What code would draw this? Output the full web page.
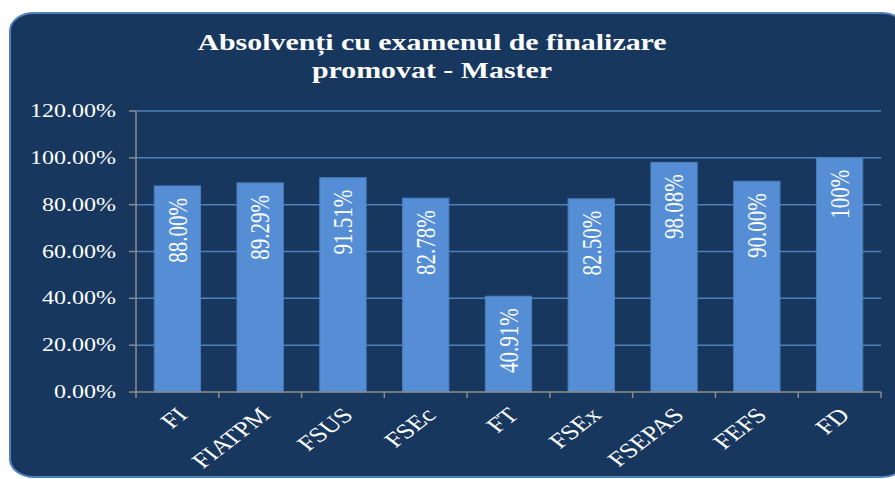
<!DOCTYPE html>
<html>
<head>
<meta charset="utf-8">
<script src="https://cdn.jsdelivr.net/npm/d3@7"></script>
<style>
  html, body { margin: 0; padding: 0; background: #ffffff; }
  text { font-family: "Liberation Serif", "Times New Roman", serif; }
</style>
</head>
<body>
<div id="chart"></div>
<script>
  // 1. Data
  const categories = ["FI", "FIATPM", "FSUS", "FSEc", "FT", "FSEx", "FSEPAS", "FEFS", "FD"];
  const values = [88.0, 89.29, 91.51, 82.78, 40.91, 82.5, 98.08, 90.0, 100];
  const valueLabels = ["88.00%", "89.29%", "91.51%", "82.78%", "40.91%", "82.50%", "98.08%", "90.00%", "100%"];
  const yTicks = [0, 20, 40, 60, 80, 100, 120];
  const titleLines = ["Absolvenți cu examenul de finalizare", "promovat - Master"];

  // the original picture is stretched sideways
  const sx = 1.3;

  // 2. Dimensions
  const dims = {
    width: 895,
    height: 479,
    margin: { top: 111, right: 14, bottom: 87, left: 136 },
  };
  dims.containerWidth = dims.width - dims.margin.left - dims.margin.right;
  dims.containerHeight = dims.height - dims.margin.top - dims.margin.bottom;

  // 3. Container
  const svg = d3
    .select("#chart")
    .append("svg")
    .attr("width", dims.width)
    .attr("height", dims.height);

  svg
    .append("rect")
    .attr("x", 10)
    .attr("y", 13)
    .attr("width", 896)
    .attr("height", 464)
    .attr("rx", 24)
    .attr("ry", 18)
    .attr("fill", "#17375e")
    .attr("stroke", "#4f81bd")
    .attr("stroke-width", 2);

  const title = svg.append("g").attr("fill", "#ffffff");
  titleLines.forEach((t, i) => {
    title
      .append("text")
      .attr("transform", `translate(432, ${50 + i * 28}) scale(${sx},1)`)
      .attr("text-anchor", "middle")
      .style("font-size", "23px")
      .style("font-weight", "bold")
      .text(t);
  });

  const container = svg
    .append("g")
    .attr("transform", `translate(${dims.margin.left}, ${dims.margin.top})`);

  // 4. Scales
  const xScale = d3
    .scaleBand()
    .domain(categories)
    .range([0, dims.containerWidth])
    .paddingInner(0.44)
    .paddingOuter(0.22);

  const yScale = d3
    .scaleLinear()
    .domain([0, 120])
    .range([dims.containerHeight, 0]);

  // 5. Grid
  container
    .append("g")
    .selectAll("line")
    .data(yTicks.slice(1))
    .join("line")
    .attr("x1", 0)
    .attr("x2", dims.containerWidth)
    .attr("y1", (d) => yScale(d))
    .attr("y2", (d) => yScale(d))
    .attr("stroke", "#4f81bd")
    .attr("stroke-width", 1.5);

  // 6. Bars
  container
    .append("g")
    .selectAll("rect")
    .data(values)
    .join("rect")
    .attr("x", (d, i) => xScale(categories[i]))
    .attr("y", (d) => yScale(d))
    .attr("width", xScale.bandwidth())
    .attr("height", (d) => yScale(0) - yScale(d))
    .attr("fill", "#558ed5")
    .attr("stroke", "#4a7ebb")
    .attr("stroke-width", 1);

  container
    .append("g")
    .selectAll("text")
    .data(values)
    .join("text")
    .attr(
      "transform",
      (d, i) =>
        `translate(${xScale(categories[i]) + xScale.bandwidth() / 2}, ${yScale(d) + 12}) scale(${sx},1) rotate(-90)`
    )
    .attr("text-anchor", "end")
    .attr("dy", "0.34em")
    .attr("fill", "#ffffff")
    .style("font-size", "21px")
    .text((d, i) => valueLabels[i]);

  // 7. Axes
  const yAxisGroup = container.append("g");
  yAxisGroup
    .append("line")
    .attr("x1", 0)
    .attr("x2", 0)
    .attr("y1", 0)
    .attr("y2", dims.containerHeight)
    .attr("stroke", "#8c8c8c")
    .attr("stroke-width", 1.5);
  yAxisGroup
    .selectAll(".tick")
    .data(yTicks)
    .join("line")
    .attr("x1", -7)
    .attr("x2", 0)
    .attr("y1", (d) => yScale(d))
    .attr("y2", (d) => yScale(d))
    .attr("stroke", "#8c8c8c")
    .attr("stroke-width", 1.5);
  yAxisGroup
    .selectAll("text")
    .data(yTicks)
    .join("text")
    .attr("transform", (d) => `translate(-20, ${yScale(d) + 6}) scale(${sx},1)`)
    .attr("text-anchor", "end")
    .attr("fill", "#ffffff")
    .style("font-size", "18.5px")
    .text((d) => d3.format(".2f")(d) + "%");

  const xAxisGroup = container
    .append("g")
    .attr("transform", `translate(0, ${dims.containerHeight})`);
  xAxisGroup
    .append("line")
    .attr("x1", 0)
    .attr("x2", dims.containerWidth)
    .attr("stroke", "#8c8c8c")
    .attr("stroke-width", 1.5);
  const step = xScale.step();
  xAxisGroup
    .selectAll(".tick")
    .data(d3.range(categories.length + 1))
    .join("line")
    .attr("x1", (i) => i * step)
    .attr("x2", (i) => i * step)
    .attr("y1", 0)
    .attr("y2", 6)
    .attr("stroke", "#8c8c8c")
    .attr("stroke-width", 1.5);
  xAxisGroup
    .selectAll("text")
    .data(categories)
    .join("text")
    .attr(
      "transform",
      (d) => `translate(${xScale(d) + xScale.bandwidth() / 2 - 2}, 14) scale(${sx},1) rotate(-45)`
    )
    .attr("text-anchor", "end")
    .attr("dy", "0.7em")
    .attr("fill", "#ffffff")
    .style("font-size", "21px")
    .text((d) => d);
</script>
</body>
</html>
